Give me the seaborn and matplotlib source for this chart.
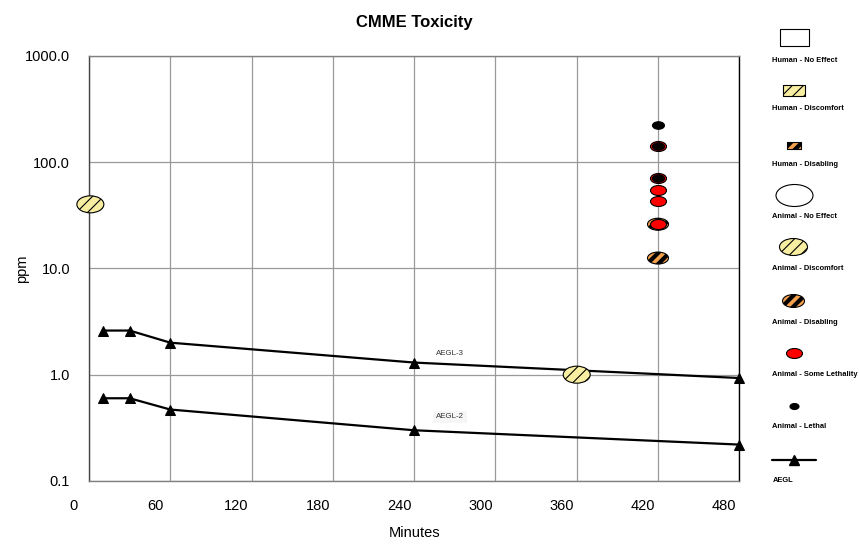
import numpy as np
import matplotlib
matplotlib.use('Agg')
import matplotlib.pyplot as plt
import matplotlib.transforms as mtransforms
from matplotlib.path import Path
from matplotlib.ticker import FixedLocator, FormatStrFormatter, LogLocator, NullFormatter
import seaborn as sns

# AEGL levels (ppm) for the standard exposure durations
aegl_minutes = [10, 30, 60, 240, 480]
aegl3_ppm = [2.6, 2.6, 2.0, 1.3, 0.93]
aegl2_ppm = [0.60, 0.60, 0.47, 0.30, 0.22]

# Animal observations
discomfort_minutes = [1, 360]
discomfort_ppm = [40, 1.0]
disabling_minutes = [420, 420]
disabling_ppm = [26, 12.5]
some_lethal_minutes = [420, 420, 420, 420, 420]
some_lethal_ppm = [140, 70, 55, 43, 26]
lethal_minutes = [420, 420, 420]
lethal_ppm = [225, 140, 70]

x_ticks = [0, 60, 120, 180, 240, 300, 360, 420, 480]
y_ticks = [0.1, 1, 10, 100, 1000]

legend_labels = ['Human - No Effect', 'Human - Discomfort', 'Human - Disabling',
                 'Animal - No Effect', 'Animal - Discomfort', 'Animal - Disabling',
                 'Animal - Some Lethality', 'Animal - Lethal', 'AEGL']

YELLOW = '#F8EEA2'
ORANGE = '#F4A04C'
RED = '#FF0000'

sns.set_style('white')
plt.rcParams['font.family'] = ['Liberation Sans', 'DejaVu Sans']
plt.rcParams.update({'text.color': 'black', 'axes.labelcolor': 'black',
                     'xtick.labelcolor': 'black', 'ytick.labelcolor': 'black'})

PT = 72 / 100  # points per pixel


def ellipse(w, h):
    c = Path.unit_circle()
    return Path(c.vertices * np.array([1.0, h / w]), c.codes)


def rect(w, h):
    r = h / w
    return Path([[-1, -r], [1, -r], [1, r], [-1, r], [-1, -r]],
                [Path.MOVETO, Path.LINETO, Path.LINETO, Path.LINETO, Path.CLOSEPOLY])


def hatch_lw(coll, lw):
    if hasattr(coll, 'set_hatch_linewidth'):
        coll.set_hatch_linewidth(lw)


def dots(ax, x, y, w, h, color, hatch=None, hlw=1.0, z=4):
    with plt.rc_context({'hatch.linewidth': hlw}):
        sns.scatterplot(x=x, y=y, ax=ax, marker=ellipse(w, h), s=(w * PT) ** 2,
                        color=color, edgecolor='black', linewidth=0.8, hatch=hatch,
                        zorder=z, clip_on=False, legend=False)
    hatch_lw(ax.collections[-1], hlw)


fig = plt.figure(figsize=(8.59, 5.44), dpi=100)
ax = fig.add_axes([89 / 859, 63 / 544, 650.3 / 859, 425.3 / 544])

# AEGL lines
for vals in (aegl3_ppm, aegl2_ppm):
    sns.lineplot(x=aegl_minutes, y=vals, ax=ax, color='black', linewidth=1.6,
                 marker='^', markersize=6.5, markeredgecolor='black', zorder=3,
                 clip_on=False)

ax.text(256, 1.58, 'AEGL-3', fontsize=5.7, color='#333333', va='center')
ax.text(256, 0.40, 'AEGL-2', fontsize=5.7, color='#333333', va='center',
        bbox=dict(boxstyle='square,pad=0.35', facecolor='#f6f6f6', edgecolor='none'))

# observations
dots(ax, discomfort_minutes, discomfort_ppm, 27, 17, YELLOW, hatch='///', hlw=0.8)
dots(ax, disabling_minutes, disabling_ppm, 21, 12, ORANGE, hatch='///', hlw=3.0)
dots(ax, some_lethal_minutes, some_lethal_ppm, 16, 10, RED, z=5)
dots(ax, lethal_minutes, lethal_ppm, 12, 7.5, 'black', z=6)

ax.set_yscale('log')
ax.set_xlim(0, 480)
ax.set_ylim(0.1, 1000)
ax.xaxis.set_major_locator(FixedLocator(x_ticks))
ax.xaxis.set_minor_locator(FixedLocator(np.arange(30, 480, 60)))
ax.yaxis.set_major_locator(FixedLocator(y_ticks))
ax.yaxis.set_major_formatter(FormatStrFormatter('%.1f'))
ax.yaxis.set_minor_locator(LogLocator(base=10, subs=np.arange(2, 10)))
ax.yaxis.set_minor_formatter(NullFormatter())

ax.grid(True, which='major', color='#9a9a9a', linewidth=0.9)
ax.set_axisbelow(True)
ax.tick_params(axis='x', which='both', direction='inout', length=6.5, width=0.9,
               color='#808080', labelsize=10.5, pad=10, labelcolor='black')
ax.tick_params(axis='y', which='major', direction='out', length=7.5, width=0.9,
               color='#808080', labelsize=10.5, pad=6, labelcolor='black')
ax.tick_params(axis='y', which='minor', direction='out', length=5, width=0.8,
               color='#808080')
for side, col in (('left', '#444444'), ('bottom', '#808080'),
                  ('top', '#808080'), ('right', 'black')):
    ax.spines[side].set_color(col)
    ax.spines[side].set_linewidth(1.0)

shift = mtransforms.ScaledTranslation(-15 / 100, 0, fig.dpi_scale_trans)
for t in ax.xaxis.get_major_ticks():
    t.label1.set_transform(t.label1.get_transform() + shift)

ax.set_xlabel('Minutes', fontsize=10.5, labelpad=9, color='black')
ax.set_ylabel('ppm', fontsize=10.5, labelpad=-3, color='black')
ax.set_title('CMME Toxicity', fontsize=12, fontweight='bold', pad=21, color='black')

# legend panel on the right: glyph above its label
lax = fig.add_axes([0, 0, 1, 1], facecolor='none')
lax.set_xlim(0, 859)
lax.set_ylim(544, 0)
lax.axis('off')

glyph_y = [37, 90, 145, 195, 247, 301, 353, 406, 460]
label_y = [60, 109, 165, 217, 269, 322, 375, 427, 481]
gx = 793.5
specs = [
    (rect(29, 17), 29, 'white', None, 1.0),
    (rect(22, 11), 22, YELLOW, '///', 0.8),
    (rect(14, 7), 14, ORANGE, '///', 3.0),
    (ellipse(37, 22), 37, 'white', None, 1.0),
    (ellipse(28, 17), 28, YELLOW, '///', 0.8),
    (ellipse(22, 13), 22, ORANGE, '///', 3.0),
    (ellipse(16, 10), 16, RED, None, 1.0),
    (ellipse(9, 6), 9, 'black', None, 1.0),
]
for (mk, w, fc, ht, hlw), yy in zip(specs, glyph_y):
    with plt.rc_context({'hatch.linewidth': hlw}):
        coll = lax.scatter([gx], [yy], marker=mk, s=(w * PT) ** 2, facecolor=fc,
                           edgecolor='black', linewidths=0.8, hatch=ht)
    hatch_lw(coll, hlw)
lax.plot([772, 816], [glyph_y[-1]] * 2, color='black', linewidth=1.6)
lax.plot([gx], [glyph_y[-1]], marker='^', color='black', markersize=6.5)
for lab, yy in zip(legend_labels, label_y):
    lax.text(772.5, yy, lab, fontsize=5.4, fontweight='bold', va='center', ha='left')

fig.savefig('out.png', dpi=100)
